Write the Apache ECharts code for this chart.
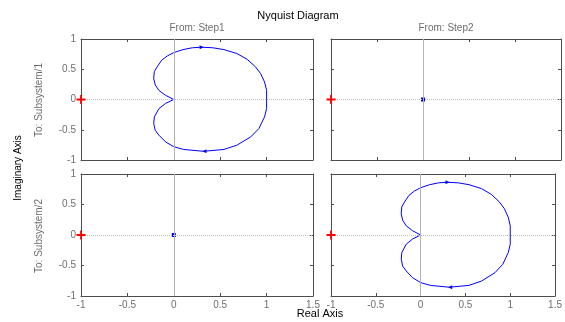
<!DOCTYPE html>
<html>
<head>
<meta charset="utf-8">
<script src="https://cdn.jsdelivr.net/npm/echarts@6/dist/echarts.min.js"></script>
<style>
  html, body { margin: 0; padding: 0; background: #fff; }
  #nyquist-chart { width: 565px; height: 322px; }
</style>
</head>
<body>
<div id="nyquist-chart"></div>
<script>
// real / imaginary parts of the loop
const loopRe = [0, -0.09, -0.16, -0.2, -0.217, -0.21, -0.18, -0.13, -0.07, 0, 0.1, 0.2, 0.3, 0.42, 0.54, 0.68, 0.79, 0.88, 0.935, 0.978, 1.0, 1.0,
  1.0, 0.978, 0.917, 0.83, 0.68, 0.54, 0.32, 0.108, 0, -0.09, -0.16, -0.2, -0.216, -0.21, -0.16, -0.09, 0];
const loopIm = [0, 0.07, 0.15, 0.24, 0.35, 0.46, 0.54, 0.65, 0.72, 0.775, 0.825, 0.855, 0.865, 0.855, 0.825, 0.76, 0.665, 0.54, 0.43, 0.29, 0.15, 0,
  -0.15, -0.287, -0.48, -0.617, -0.755, -0.826, -0.856, -0.826, -0.78, -0.70, -0.59, -0.51, -0.40, -0.29, -0.15, -0.066, 0];
// arrow marks on the loop
const arrowPts = [[0.3, 0.865], [0.33, -0.856]];
const arrowRot = [-90, 90];
const critical = [-1, 0];
const zeroPt = [0, 0];
const xTicks = [-1, -0.5, 0, 0.5, 1, 1.5];
const yTicks = [-1, -0.5, 0, 0.5, 1];
const colTitles = ['From: Step1', 'From: Step2'];
const rowTitles = ['To: Subsystem/1', 'To: Subsystem/2'];
// which cell has the loop (others are a single point at origin)
const hasLoop = [true, false, false, true];

const loopData = loopRe.map((r, i) => [r, loopIm[i]]);

const boxColor = '#4d4d4d';
const labelColor = '#6e6e6e';
const font = 'Liberation Sans, Arial, sans-serif';

const grids = [
  { left: 81, top: 39, width: 232, height: 121 },
  { left: 331, top: 39, width: 230, height: 121 },
  { left: 81, top: 174, width: 232, height: 122 },
  { left: 331, top: 174, width: 230, height: 122 }
];

let xAxes = [], yAxes = [], series = [];

grids.forEach((g, i) => {
  const bottomRow = i >= 2;
  const leftCol = i % 2 === 0;
  const base = {
    type: 'value', gridIndex: i, interval: 0.5,
    axisLine: { onZero: false, lineStyle: { color: boxColor, width: 1 } },
    axisTick: { inside: true, length: 3, lineStyle: { color: boxColor } },
    splitLine: { show: false }
  };
  xAxes.push(Object.assign({}, base, {
    min: xTicks[0], max: xTicks[xTicks.length - 1], position: 'bottom',
    axisLabel: { show: bottomRow, color: labelColor, fontSize: 10, fontFamily: font, margin: 4,
      showMinLabel: true, showMaxLabel: true, hideOverlap: false }
  }));
  xAxes.push(Object.assign({}, base, {
    min: xTicks[0], max: xTicks[xTicks.length - 1], position: 'top', axisLabel: { show: false }
  }));
  yAxes.push(Object.assign({}, base, {
    min: yTicks[0], max: yTicks[yTicks.length - 1], position: 'left',
    axisLabel: { show: leftCol, color: labelColor, fontSize: 10, fontFamily: font, margin: 5,
      showMinLabel: true, showMaxLabel: true }
  }));
  yAxes.push(Object.assign({}, base, {
    min: yTicks[0], max: yTicks[yTicks.length - 1], position: 'right', axisLabel: { show: false }
  }));

  const xi = i * 2, yi = i * 2;

  // zero lines
  series.push({
    type: 'line', xAxisIndex: xi, yAxisIndex: yi, data: [], silent: true,
    markLine: {
      silent: true, symbol: 'none', label: { show: false },
      data: [
        { xAxis: 0, lineStyle: { color: '#b3b3b3', width: 1, type: 'solid' } },
        { yAxis: 0, lineStyle: { color: '#bdbdbd', width: 1, type: [1, 1] } }
      ]
    },
    animation: false
  });

  if (hasLoop[i]) {
    series.push({
      type: 'line', xAxisIndex: xi, yAxisIndex: yi, data: loopData,
      showSymbol: false, symbol: 'none', smooth: false,
      lineStyle: { color: '#0000ff', width: 1 }, animation: false, z: 3
    });
    series.push({
      type: 'scatter', xAxisIndex: xi, yAxisIndex: yi,
      data: arrowPts.map((p, k) => ({ value: p, symbolRotate: arrowRot[k] })),
      symbol: 'triangle', symbolSize: 4, itemStyle: { color: '#0000ff', opacity: 1 }, animation: false, z: 4
    });
  } else {
    series.push({
      type: 'scatter', xAxisIndex: xi, yAxisIndex: yi, data: [zeroPt],
      symbol: 'rect', symbolSize: 4, itemStyle: { color: '#0000ff', opacity: 1 }, animation: false, z: 4
    });
  }

  // critical point
  series.push({
    type: 'scatter', xAxisIndex: xi, yAxisIndex: yi, data: [critical], clip: false,
    symbol: 'path://M-1,-0.2H1V0.2H-1Z M-0.2,-1H0.2V1H-0.2Z', symbolSize: 9,
    itemStyle: { color: '#ff0000', opacity: 1 }, animation: false, z: 5
  });
});

const textStyle = (color) => ({ fill: color, fontSize: 10, fontFamily: font });

const option = {
  backgroundColor: '#fff',
  animation: false,
  grid: grids,
  xAxis: xAxes,
  yAxis: yAxes,
  series: series,
  graphic: [
    { type: 'text', x: 298, y: 16, style: Object.assign(textStyle('#000'), { text: 'Nyquist Diagram', fontSize: 11, align: 'center', verticalAlign: 'middle' }) },
    { type: 'text', x: 197, y: 28, style: Object.assign(textStyle(labelColor), { text: colTitles[0], align: 'center', verticalAlign: 'middle' }) },
    { type: 'text', x: 446, y: 28, style: Object.assign(textStyle(labelColor), { text: colTitles[1], align: 'center', verticalAlign: 'middle' }) },
    { type: 'text', x: 320, y: 314, style: Object.assign(textStyle('#000'), { text: 'Real Axis', fontSize: 11, align: 'center', verticalAlign: 'middle' }) },
    { type: 'text', x: 18, y: 168, rotation: Math.PI / 2, style: Object.assign(textStyle('#000'), { text: 'Imaginary Axis', align: 'center', verticalAlign: 'middle' }) },
    { type: 'text', x: 39, y: 100, rotation: Math.PI / 2, style: Object.assign(textStyle(labelColor), { text: rowTitles[0], align: 'center', verticalAlign: 'middle' }) },
    { type: 'text', x: 39, y: 236, rotation: Math.PI / 2, style: Object.assign(textStyle(labelColor), { text: rowTitles[1], align: 'center', verticalAlign: 'middle' }) }
  ]
};

const chart = echarts.init(document.getElementById('nyquist-chart'), null, { renderer: 'canvas' });
chart.setOption(option);
</script>
</body>
</html>
